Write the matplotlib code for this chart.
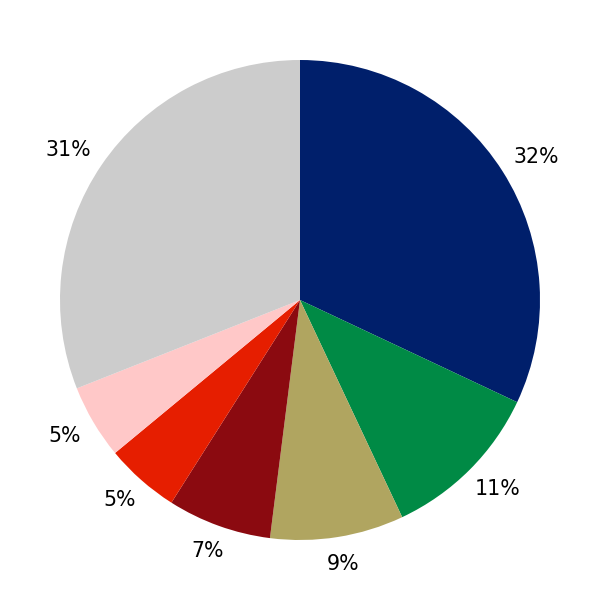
import matplotlib
matplotlib.use('Agg')
import matplotlib.pyplot as plt
import numpy as np

shares = [32, 11, 9, 7, 5, 5, 31]
colors = ['#001f6b', '#008a45', '#b0a560', '#8b0a10', '#e61e00', '#ffc8c8', '#cccccc']

fig = plt.figure(figsize=(6, 6), dpi=100)
ax = fig.add_axes([0, 0, 1, 1])
wedges, _, pcts = ax.pie(shares, colors=colors, startangle=90, counterclock=False,
                         autopct='%d%%', pctdistance=1.07,
                         textprops={'fontsize': 14.8})
ax.set_xlim(-1.25, 1.25)
ax.set_ylim(-1.25, 1.25)
ax.set_aspect('equal')
ax.axis('off')

# push each label out so its box sits just outside the rim
fig.canvas.draw()
for w, t in zip(wedges, pcts):
    ang = np.deg2rad((w.theta1 + w.theta2) / 2)
    bb = t.get_window_extent()
    px, py = ax.transData.transform(t.get_position())
    px += bb.width / 2 * np.cos(ang)
    py += bb.height / 2 * np.sin(ang)
    t.set_position(ax.transData.inverted().transform((px, py)))

fig.savefig('out.png', dpi=100)
